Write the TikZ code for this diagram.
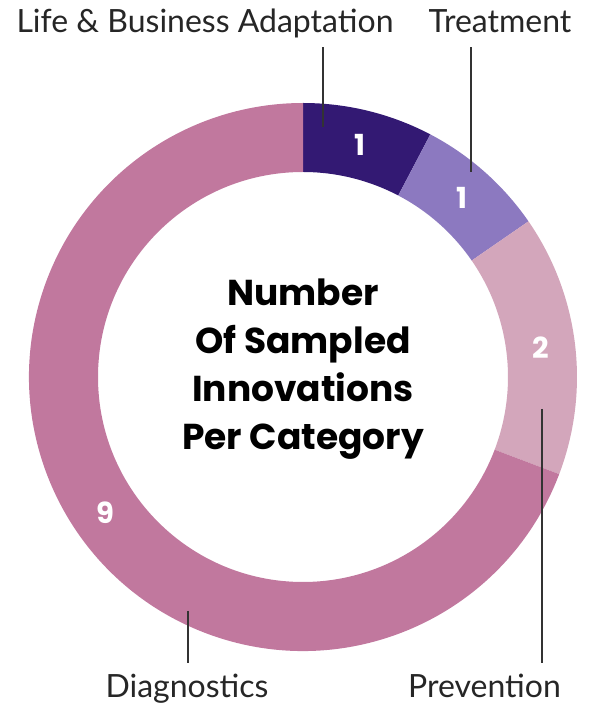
\documentclass[tikz,border=0pt]{standalone}
\usepackage{fontspec}
\setmainfont{Lato}
\newfontfamily\headfont{Poppins}
\definecolor{adaptcol}{RGB}{51,25,115}
\definecolor{treatcol}{RGB}{140,121,192}
\definecolor{prevcol}{RGB}{211,166,187}
\definecolor{diagcol}{RGB}{193,120,158}

\begin{document}
\begin{tikzpicture}[x=1pt, y=1pt,
    catlabel/.style={font=\fontsize{32}{36}\selectfont, text=black!85, text height=22pt, text depth=6pt, anchor=base},
    count/.style={font=\headfont\bfseries\fontsize{29}{34}\selectfont, text=white},
    leader/.style={draw=black!80, line width=1.2pt}]
    \useasboundingbox (0, 0) rectangle (590, 705);
    \begin{scope}[shift={(303, 328)}]
        \foreach \a/\b/\c in {90/62.3077/adaptcol, 62.3077/34.6154/treatcol, 34.6154/-20.7692/prevcol, -20.7692/-270/diagcol}
            \fill[\c] (\a:274) arc[start angle=\a, end angle=\b, radius=274] -- (\b:205) arc[start angle=\b, end angle=\a, radius=205] -- cycle;
        \node[count] (nadapt) at (76.15:239.5) {1};
        \node[count] (ntreat) at (48.46:239.5) {1};
        \node[count] (nprev) at (6.92:239.5) {2};
        \node[count] (ndiag) at (214.6:239.5) {9};
        \coordinate (adaptpt) at (20, 250);
        \coordinate (treatpt) at (168, 205);
        \coordinate (prevpt) at (239, -32);
        \coordinate (diagpt) at (-115, -234);
        \node[font=\headfont\bfseries\fontsize{36}{48}\selectfont, align=center] (title) at (0, 8) {Number\\Of Sampled\\Innovations\\Per Category};
    \end{scope}
    \node[catlabel, inner ysep=8pt] (adapt) at (205, 672) {Life \& Business Adaptation};
    \node[catlabel, inner ysep=8pt] (treat) at (500, 672) {Treatment};
    \node[catlabel, inner ysep=13pt] (diag) at (187, 7) {Diagnostics};
    \node[catlabel, inner ysep=13pt] (prev) at (484.5, 7) {Prevention};
    \draw[leader] (adaptpt) -- (adaptpt |- adapt.south);
    \draw[leader] (treatpt) -- (treatpt |- treat.south);
    \draw[leader] (diagpt) -- (diagpt |- diag.north);
    \draw[leader] (prevpt) -- (prevpt |- prev.north);
\end{tikzpicture}
\end{document}
